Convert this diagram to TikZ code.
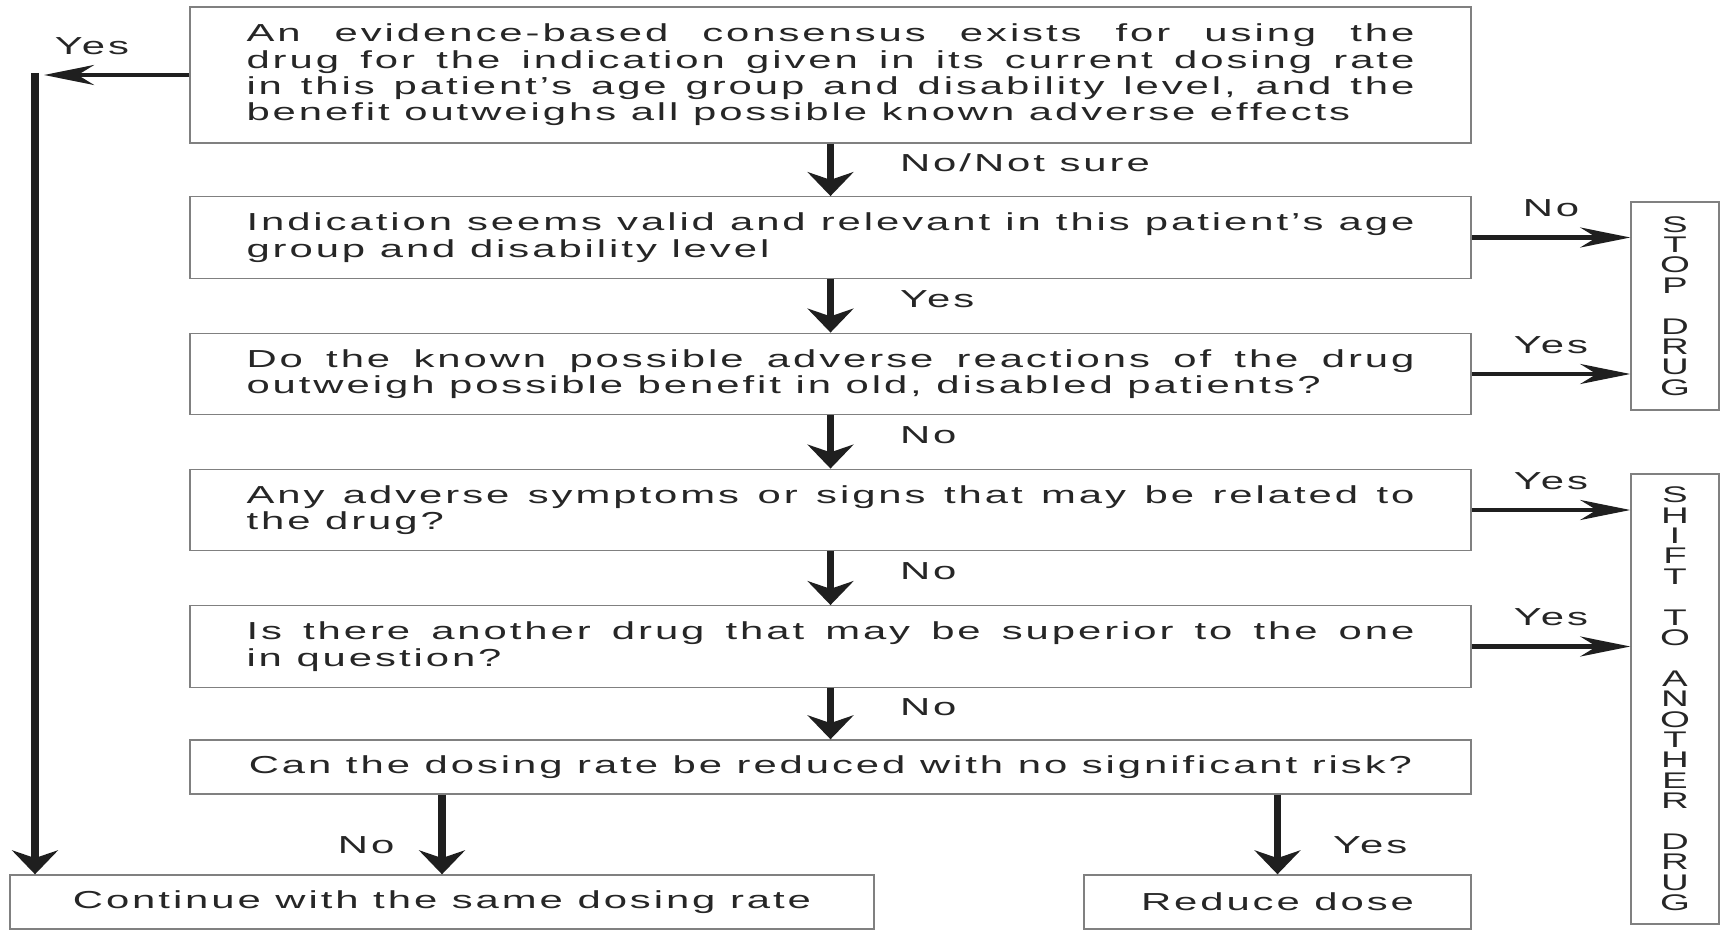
\documentclass[tikz,border=0pt]{standalone}
\usepackage{fontspec}
\setmainfont{Liberation Sans}[FakeStretch=1.7,LetterSpace=12]
\usetikzlibrary{arrows.meta,positioning}

\newlength{\qtextw}
\setlength{\qtextw}{584pt}
\newcommand{\fullline}[1]{\makebox[\qtextw][s]{\spaceskip=0pt\xspaceskip=0pt #1}\\}
\newcommand{\lastline}[1]{{\spaceskip=0pt\xspaceskip=0pt #1}}

\tikzset{
  qbox/.style={draw=black!50, line width=0.7pt, text=black!85,
    font=\fontsize{12.3}{13.2}\selectfont, inner xsep=28.25pt, inner ysep=0pt,
    text width=\qtextw, align=left, minimum height=40.75pt},
  endbox/.style={draw=black!50, line width=0.7pt, text=black!85,
    font=\fontsize{12.3}{13.2}\selectfont, inner sep=0pt, minimum height=27pt},
  sidebox/.style={draw=black!50, line width=0.7pt, text=black!85, inner sep=0pt,
    minimum width=44pt, align=center, font=\fontsize{11.3}{10.2}\selectfont},
  vflow/.style={draw=black!88, line width=3.6pt, -{Stealth[length=12pt,width=23pt]}},
  hflow/.style={draw=black!88, line width=2.4pt, -{Stealth[length=25pt,width=10pt]}},
  lab/.style={text=black!85, inner sep=1pt, font=\fontsize{12.3}{13.2}\selectfont},
}

\begin{document}
\begin{tikzpicture}[x=0.5pt,y=-0.5pt]
  \useasboundingbox (0,0) rectangle (1724,930);

  \node[qbox, minimum height=68pt] (q1) at (830.5,75)
    {\fullline{An evidence-based consensus exists for using the}%
     \fullline{drug for the indication given in its current dosing rate}%
     \fullline{in this patient’s age group and disability level, and the}%
     \lastline{benefit outweighs all possible known adverse effects}};
  \node[qbox] (q2) at (830.5,237.5)
    {\fullline{Indication seems valid and relevant in this patient’s age}%
     \lastline{group and disability level}};
  \node[qbox] (q3) at (830.5,374)
    {\fullline{Do the known possible adverse reactions of the drug}%
     \lastline{outweigh possible benefit in old, disabled patients?}};
  \node[qbox] (q4) at (830.5,510)
    {\fullline{Any adverse symptoms or signs that may be related to}%
     \lastline{the drug?}};
  \node[qbox] (q5) at (830.5,646.5)
    {\fullline{Is there another drug that may be superior to the one}%
     \lastline{in question?}};
  \node[endbox, minimum width=640.5pt] (q6) at (830.5,767)
    {Can the dosing rate be reduced with no significant risk?};

  \node[endbox, minimum width=432pt] (cont) at (442,902) {Continue with the same dosing rate};
  \node[endbox, minimum width=193.5pt] (reduce) at (1277.5,902) {Reduce dose};

  \node[sidebox, minimum height=104pt] (stop) at (1675,306)
    {S\\T\\O\\P\\[10.2pt]D\\R\\U\\G};
  \node[sidebox, minimum height=225pt] (shift) at (1675,699)
    {S\\H\\I\\F\\T\\[10.2pt]T\\O\\[10.2pt]A\\N\\O\\T\\H\\E\\R\\[10.2pt]D\\R\\U\\G};

  % main column
  \draw[vflow] (q1) -- (q2) node[lab, pos=0.37, anchor=west, xshift=32pt] {No/Not sure};
  \draw[vflow] (q2) -- (q3) node[lab, pos=0.37, anchor=west, xshift=32pt] {Yes};
  \draw[vflow] (q3) -- (q4) node[lab, pos=0.37, anchor=west, xshift=32pt] {No};
  \draw[vflow] (q4) -- (q5) node[lab, pos=0.37, anchor=west, xshift=32pt] {No};
  \draw[vflow] (q5) -- (q6) node[lab, pos=0.37, anchor=west, xshift=32pt] {No};

  % side exits
  \draw[hflow] (q2) -- (q2 -| stop.west) node[lab, midway, above=8pt] {No};
  \draw[hflow] (q3) -- (q3 -| stop.west) node[lab, midway, above=8pt] {Yes};
  \draw[hflow] (q4) -- (q4 -| shift.west) node[lab, midway, above=8pt] {Yes};
  \draw[hflow] (q5) -- (q5 -| shift.west) node[lab, midway, above=8pt] {Yes};

  % yes branch on the left
  \coordinate (yesend) at (44,75);
  \coordinate (yestop) at (35,73);
  \draw[hflow] (q1.west) -- (yesend) node[lab, pos=0.67, above=8pt] {Yes};
  \draw[vflow] (yestop) -- (yestop |- cont.north);

  % last decision
  \draw[vflow] (q6.south -| cont) -- (cont) node[lab, pos=0.63, anchor=east, xshift=-21pt] {No};
  \draw[vflow] (q6.south -| reduce) -- (reduce) node[lab, pos=0.63, anchor=west, xshift=25pt] {Yes};
\end{tikzpicture}
\end{document}
